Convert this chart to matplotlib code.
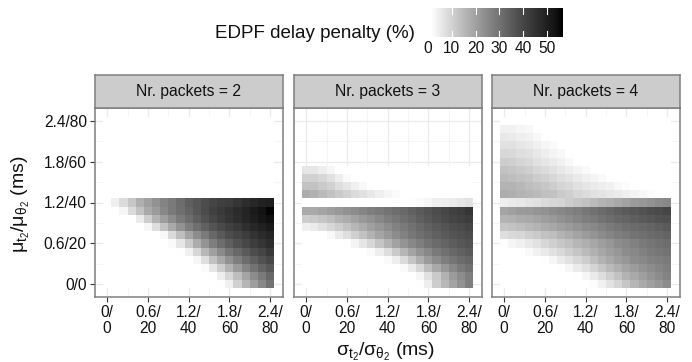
import numpy as np
import matplotlib
matplotlib.use('Agg')
import matplotlib.pyplot as plt
from matplotlib.colors import ListedColormap

plt.rcParams['font.family'] = ['Liberation Sans', 'DejaVu Sans']
plt.rcParams['mathtext.fontset'] = 'custom'
plt.rcParams['mathtext.rm'] = 'Liberation Sans'
plt.rcParams['mathtext.it'] = 'Liberation Sans:italic'
plt.rcParams['mathtext.default'] = 'regular'

# grid of the experiment (sigma on x, mu on y, in ms for t2)
sigma_t2 = [0.0, 0.12, 0.24, 0.36, 0.48, 0.6, 0.72, 0.84, 0.96, 1.08, 1.2,
            1.32, 1.44, 1.56, 1.68, 1.8, 1.92, 2.04, 2.16, 2.28, 2.4]
mu_t2 = [0.0, 0.12, 0.24, 0.36, 0.48, 0.6, 0.72, 0.84, 0.96, 1.08, 1.2,
         1.32, 1.44, 1.56, 1.68, 1.8, 1.92, 2.04, 2.16, 2.28, 2.4]
packets = [2, 3, 4]

tick_vals = [0, 0.6, 1.2, 1.8, 2.4]
minor_vals = [0.3, 0.9, 1.5, 2.1]
x_ticklabels = ['0/\n0', '0.6/\n20', '1.2/\n40', '1.8/\n60', '2.4/\n80']
y_ticklabels = ['0/0', '0.6/20', '1.2/40', '1.8/60', '2.4/80']
legend_breaks = [0, 10, 20, 30, 40, 50]

# EDPF delay penalty (%), rows from mu=2.4 (top) down to mu=0, cols sigma=0..2.4
penalty_2 = """
0 0 0 0 0 0 0 0 0 0 0 0 0 0 0 0 0 0 0 0 0
0 0 0 0 0 0 0 0 0 0 0 0 0 0 0 0 0 0 0 0 0
0 0 0 0 0 0 0 0 0 0 0 0 0 0 0 0 0 0 0 0 0
0 0 0 0 0 0 0 0 0 0 0 0 0 0 0 0 0 0 0 0 0
0 0 0 0 0 0 0 0 0 0 0 0 0 0 0 0 0 0 0 0 0
0 0 0 0 0 0 0 0 0 0 0 0 0 0 0 0 0 0 0 0 0
0 0 0 0 0 0 0 0 0 0 0 0 0 0 0 0 0 0 0 0 0
0 0 0 0 0 0 0 0 0 0 0 0 0 0 0 0 0 0 0 0 0
0 0 0 0 0 0 0 0 0 0 0 0 0 0 0 0 0 0 0 0 0
0 0 0 0 0 0 0 0 0 0 0 0 0 0 0 0 0 0 0 0 0
0 4 8 12 17 20 23 26 28 31 34 36 38 40 41.5 42 44 46 47.5 49 50
0 1 3 8 13 18 21 25 28 30.5 33 36 38.5 41 43 44.5 46.5 48.5 51 53 55.5
0 0 0 0 5 11 16 20.5 24 28 31 34 37 39.5 42 44 46 48 50 52 53.5
0 0 0 0 0 3 7.5 13 18 23 27 30.5 33.5 36.5 39 41 43 45.5 47.5 49 51
0 0 0 0 0 0 0 2.6 8 14 19 24 28 32 35 38 40 42 44.5 46.5 48
0 0 0 0 0 0 0 0 2 6 11.5 17.5 22.5 27 31 34 37 39.5 42 44 46
0 0 0 0 0 0 0 0 0 1.4 4 9 15 20 24.5 28.5 32 35 38 40 43
0 0 0 0 0 0 0 0 0 0 0 3 7.5 13 18 23 27 31 34 37 39.5
0 0 0 0 0 0 0 0 0 0 0 0 2 6 11 16 21 25.5 29.5 33 36
0 0 0 0 0 0 0 0 0 0 0 0 0 1.4 4.5 9 14 19 24 28 32
0 0 0 0 0 0 0 0 0 0 0 0 0 0 1.4 4 10 15.5 20.5 25 29.5
"""

penalty_3 = """
nan nan nan nan nan nan nan nan nan nan nan nan nan nan nan nan nan nan nan nan nan
nan nan nan nan nan nan nan nan nan nan nan nan nan nan nan nan nan nan nan nan nan
nan nan nan nan nan nan nan nan nan nan nan nan nan nan nan nan nan nan nan nan nan
nan nan nan nan nan nan nan nan nan nan nan nan nan nan nan nan nan nan nan nan nan
nan nan nan nan nan nan nan nan nan nan nan nan nan nan nan nan nan nan nan nan nan
nan nan nan nan nan nan nan nan nan nan nan nan nan nan nan nan nan nan nan nan nan
6 6 4.5 3 1 0 0 0 0 0 0 0 0 0 0 0 0 0 0 0 0
10 10 9 7 4.5 2 0 0 0 0 0 0 0 0 0 0 0 0 0 0 0
13 13 11.5 10 7.5 6 4 2.6 1 0 0 0 0 0 0 0 0 0 0 0 0
17.5 16.5 14.5 13 11.5 10 8 7 5.5 4 3 2 1 0 0 0 0 0 0 0 0
0 0 0 0 0 0 0 0 0 0 0 0 0 1.4 2 3 4 4.5 5 6 7
18 18 19 20.5 21.5 23 24 25.5 27 28 29.5 31 32 33.5 35 36.5 38 39.5 41 42 44
11 11.5 12.5 14 16 17.5 19.5 21.5 23 25 27 28.5 30.5 32 34 36 37.5 39 40 41 42
4 5 7 9 11 13 15.5 17.5 20 22 24 26.5 28 30 32 33.5 35 36.5 38 39 40
0 0 0 2.6 5 7.5 10.5 13 16 19 21.5 24 26.5 28.5 30.5 32 33.5 35 36.5 37.5 38.5
0 0 0 0 0 1.4 3.5 6 9 12.5 16 19.5 22.5 25 27 29.5 31.5 33 34.5 36 37
0 0 0 0 0 0 0 0 2 4.5 7.5 11.5 15.5 19 22.5 25 28 30 32 33.5 35
0 0 0 0 0 0 0 0 0 0 2 4.5 8 12.5 17 21 24 27 29 31 32.5
0 0 0 0 0 0 0 0 0 0 0 0 2 5 9 14 18 22 25 28 30
0 0 0 0 0 0 0 0 0 0 0 0 0 1 3 7 11.5 16.5 21 24 27
0 0 0 0 0 0 0 0 0 0 0 0 0 0 1.4 4.5 11 15 19 23 27
"""

penalty_4 = """
1.4 1 0 0 0 0 0 0 0 0 0 0 0 0 0 0 0 0 0 0 0
3.7 3.7 3 2.6 1.4 0 0 0 0 0 0 0 0 0 0 0 0 0 0 0 0
5.5 5.3 4.5 3.7 2.6 1.4 0 0 0 0 0 0 0 0 0 0 0 0 0 0 0
7 7 6 5.3 4 3 2 1 0 0 0 0 0 0 0 0 0 0 0 0 0
9 8.5 7.5 7 5.5 4.5 3.3 2.6 1.4 0 0 0 0 0 0 0 0 0 0 0 0
11 10.5 9.5 8.5 7 6 5 3.7 2.6 1.4 0 0 0 0 0 0 0 0 0 0 0
13 12.5 11.5 10.5 9 8 7 5.5 4.5 3.3 2.2 1.4 0 0 0 0 0 0 0 0 0
14.5 14 13 12.5 11 10 9 7.5 6.5 5.3 4 3.3 2.2 1.4 0 0 0 0 0 0 0
16 16 15 14 13 12 11 9.5 8.5 7 6 5.3 4.5 3.7 2.6 1.8 1 0 0 0 0
17.5 17 16 15.5 14.5 13.5 13 11.5 10.5 9 8 7 6.5 5.5 5 4 3.3 2.6 1.8 1.4 1
4.5 5 5.5 6.5 7 8 9 9.5 11 12 13 14.5 16 17 18 19.5 21 22 23 24 25
19 20 21 21.5 22.5 23 24 25 26 27 28.5 30 31.5 32.5 34 35 36 37 38 39 40
16 16.5 17.5 18 19 20.5 21.5 23 24 25.5 27 28 29.5 31 32 33 34 35 36 37 37.5
12.5 13 14 15 16 17.5 18.5 20 21 22.5 24 25 26.5 28 29 30.5 31.5 32 33 34 35
7.5 8.5 9 10.5 11.5 13 14 16 17.5 19 21 22.5 24 25.5 27 28 29.5 30.5 31.5 32 33
1.4 3 4 5.5 7 9 10.5 12 13.5 15.5 17 18.5 20.5 22 24 25 26.5 28 29 30 31
0 0 1 2.2 3.7 5.3 7 8.5 10.5 12.5 14.5 16.5 18.5 20.5 22 24 25 26.5 28 28.5 29.5
0 0 0 0 0 1.4 3 5 7 9 11 13.5 16 18 20.5 22 24 25 26.5 27 28
0 0 0 0 0 0 0 1.4 3 5 7 9.5 12 14.5 17 19 21 23 24 25.5 27
0 0 0 0 0 0 0 0 0 1.4 3 5.3 7.5 10.5 13 16 18 20.5 22.5 24 26
0 0 0 0 0 0 0 0 0 0 0 1.8 3.7 6.5 9.5 12.5 15.5 18 20 22 24
"""

VMIN, VMAX = 1.1, 56.3
W, H = 692, 362


def table(s):
    rows = [r.split() for r in s.strip().splitlines()]
    return np.flipud(np.array(rows, dtype=float))


def lab_greys(n=256):
    # white -> black interpolated in CIELAB lightness (like scale_fill_gradient)
    L = np.linspace(100, 0, n)
    fy = (L + 16) / 116
    Y = np.where(L > 8, fy ** 3, L / 903.3)
    g = np.where(Y <= 0.0031308, 12.92 * Y, 1.055 * Y ** (1 / 2.4) - 0.055)
    return ListedColormap(np.column_stack([g, g, g]))


def px(l, t, w, h):
    return [l / W, 1 - (t + h) / H, w / W, h / H]


cmap = lab_greys()
step = 0.12
xedges = np.append(np.array(sigma_t2) - step / 2, sigma_t2[-1] + step / 2)
yedges = np.append(np.array(mu_t2) - step / 2, mu_t2[-1] + step / 2)
lim = (-0.186, 2.586)
border = '#7f7f7f'
txt = '#111111'

fig = plt.figure(figsize=(W / 100, H / 100), dpi=100)

lefts = [94.5, 293.5, 491.5]
pw, ptop, ph = 188.3, 108, 189
data = [table(penalty_2), table(penalty_3), table(penalty_4)]

for k, n in enumerate(packets):
    ax = fig.add_axes(px(lefts[k], ptop, pw, ph))
    ax.set_axisbelow(True)
    ax.pcolormesh(xedges, yedges, np.ma.masked_invalid(data[k]), cmap=cmap,
                  vmin=VMIN, vmax=VMAX, edgecolors='none', antialiased=False,
                  zorder=2)
    ax.set_xlim(lim)
    ax.set_ylim(lim)
    ax.set_xticks(tick_vals)
    ax.set_xticks(minor_vals, minor=True)
    ax.set_yticks(tick_vals)
    ax.set_yticks(minor_vals, minor=True)
    ax.grid(which='major', color='#ebebeb', lw=0.9)
    ax.grid(which='minor', color='#f2f2f2', lw=0.5)
    ax.tick_params(which='minor', length=0)
    ax.tick_params(which='major', length=3.5, width=0.8, color='#333333',
                   labelsize=11.2, labelcolor=txt, pad=2)
    ax.set_xticklabels(x_ticklabels, linespacing=1.12)
    if k == 0:
        ax.set_yticklabels(y_ticklabels)
    else:
        ax.set_yticklabels([])
        ax.tick_params(axis='y', length=0)
    for sp in ax.spines.values():
        sp.set_color(border)
        sp.set_linewidth(1.1)
        sp.set_zorder(5)

    # facet strip
    st = fig.add_axes(px(lefts[k], 75, pw, 33))
    st.set_facecolor('#cccccc')
    st.set_xticks([])
    st.set_yticks([])
    for sp in st.spines.values():
        sp.set_color(border)
        sp.set_linewidth(1.1)
    st.text(0.5, 0.5, 'Nr. packets = %d' % n, ha='center', va='center',
            fontsize=11.3, color=txt, transform=st.transAxes)

fig.text(385 / W, 1 - 352 / H, r'$\sigma_{t_2}/\sigma_{\theta_2}$ (ms)',
         ha='center', va='center', fontsize=14, color=txt)
fig.text(21 / W, 1 - 204 / H, r'$\mu_{t_2}/\mu_{\theta_2}$ (ms)',
         ha='center', va='center', rotation=90, fontsize=14, color=txt)

# colour legend
fig.text(415 / W, 1 - 33 / H, 'EDPF delay penalty (%)', ha='right',
         va='center', fontsize=13.5, color=txt)
cb = fig.add_axes(px(430.7, 8.3, 131, 28.4))
grad = np.linspace(VMIN, VMAX, 300).reshape(1, -1)
cb.imshow(grad, cmap=cmap, vmin=VMIN, vmax=VMAX, aspect='auto',
          extent=[VMIN, VMAX, 0, 1], interpolation='bilinear')
cb.set_xlim(VMIN, VMAX)
cb.set_ylim(0, 1)
cb.axis('off')
for v in legend_breaks:
    if VMIN < v < VMAX:
        cb.plot([v, v], [0, 0.2], color='white', lw=0.8)
        cb.plot([v, v], [0.8, 1], color='white', lw=0.8)
    cb.text(v, -0.42, str(v), ha='center', va='center', fontsize=11.2,
            color=txt, clip_on=False)

fig.savefig('out.png', dpi=100)
